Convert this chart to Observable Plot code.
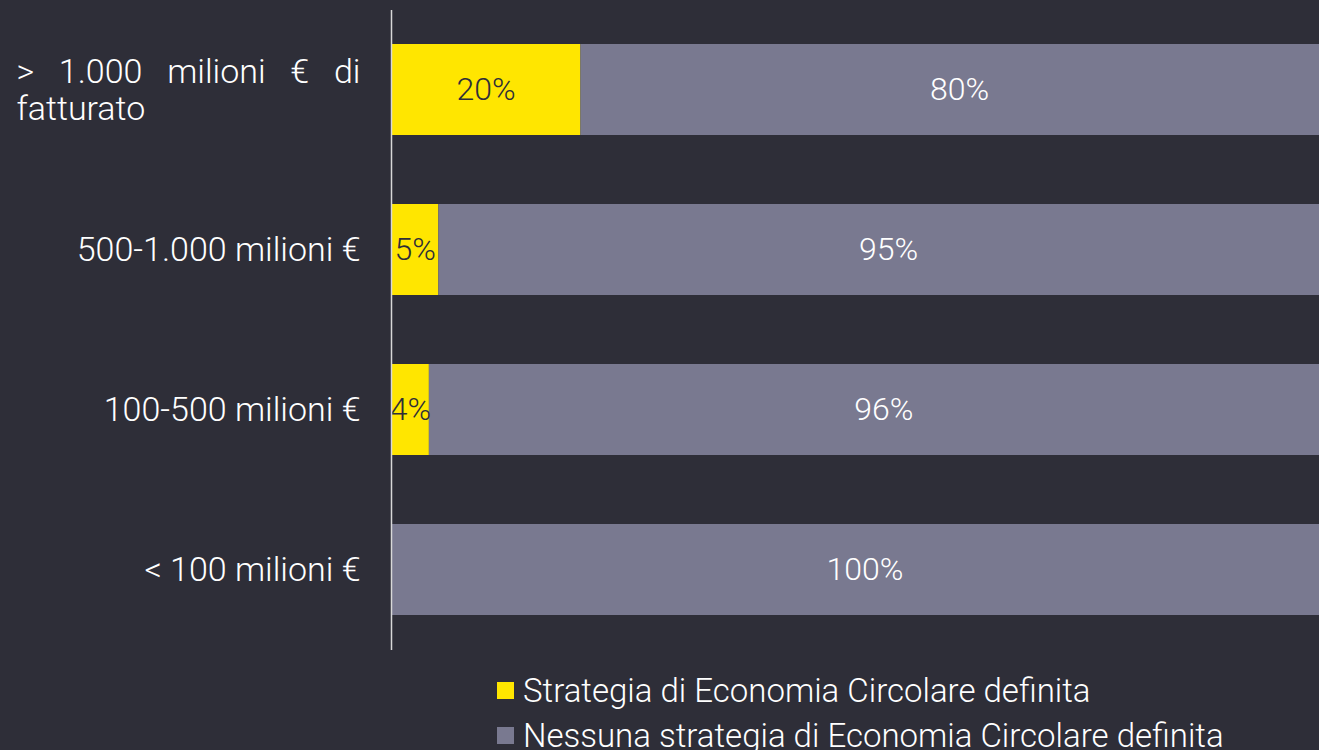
<!DOCTYPE html>
<html>
<head>
<meta charset="utf-8">
<script src="https://cdn.jsdelivr.net/npm/d3@7"></script>
<script src="https://cdn.jsdelivr.net/npm/@observablehq/plot@0.6"></script>
<style>
  html, body { margin: 0; padding: 0; background: #2e2e38; overflow: hidden; }
  body { width: 1319px; height: 750px; font-family: Roboto, "Noto Sans", sans-serif; }
  #chart svg { display: block; }
  .legend { margin-left: 497px; margin-top: 18px; color: #ffffff; font-size: 33px; font-weight: 300; line-height: 45px; }
  .legend div { display: flex; align-items: center; white-space: nowrap; height: 45px; }
  .legend .sw { width: 17px; height: 17px; margin-right: 9px; display: inline-block; flex: none; }
</style>
</head>
<body>
<div id="chart"></div>
<div class="legend" id="legend"></div>
<script>
const categories = ["> 1.000 milioni € di fatturato", "500-1.000 milioni €", "100-500 milioni €", "< 100 milioni €"];
const categoryLabels = ["> 1.000 milioni € di\nfatturato", "500-1.000 milioni €", "100-500 milioni €", "< 100 milioni €"];
const seriesNames = ["Strategia di Economia Circolare definita", "Nessuna strategia di Economia Circolare definita"];
const strategia = [20, 5, 4, 0];
const nessuna = [80, 95, 96, 100];
const seriesColors = ["#ffe600", "#797990"];
const labelColors = ["#2e2e38", "#ffffff"];

const rows = [];
categories.forEach((c, i) => {
  rows.push({cat: c, series: seriesNames[0], value: strategia[i]});
  rows.push({cat: c, series: seriesNames[1], value: nessuna[i]});
});

const labelRows = categories.map((c, i) => ({cat: c, label: categoryLabels[i], first: i === 0}));

const plot = Plot.plot({
  width: 1319,
  height: 650,
  marginTop: 10,
  marginBottom: 0,
  marginLeft: 391,
  marginRight: 0,
  style: {background: "#2e2e38", fontFamily: "Roboto, 'Noto Sans', sans-serif", fontWeight: 300, overflow: "hidden"},
  x: {domain: [0, 100], range: [391, 1338], axis: null},
  y: {domain: categories, paddingInner: 0.43, paddingOuter: 0.215, axis: null},
  color: {domain: seriesNames, range: seriesColors},
  marks: [
    Plot.barX(rows, Plot.stackX({x: "value", y: "cat", fill: "series", order: seriesNames})),
    Plot.text(rows.filter(d => d.value > 0), Plot.stackX({
      x: "value", y: "cat", order: seriesNames,
      text: d => d.value + "%",
      fill: d => labelColors[seriesNames.indexOf(d.series)],
      fontSize: 32, fontWeight: 300
    })),
    Plot.text(labelRows.filter(d => !d.first), {
      y: "cat", text: "label", frameAnchor: "left", textAnchor: "end", dx: -31,
      fill: "#ffffff", fontSize: 34, fontWeight: 300
    }),
    Plot.text(labelRows.filter(d => d.first), {
      y: "cat", text: "label", frameAnchor: "left", textAnchor: "start", dx: -375,
      fill: "#ffffff", fontSize: 34, fontWeight: 300, lineHeight: 1.09, className: "first-label"
    }),
    Plot.ruleX([0], {stroke: "#d8d8d8", strokeWidth: 1.5})
  ]
});
document.getElementById("chart").appendChild(plot);

// justify first line of the wrapped category label (as in the reference)
const t = plot.querySelector(".first-label text");
if (t) {
  const tspans = t.querySelectorAll("tspan");
  const firstLine = tspans.length ? tspans[0] : t;
  const w = firstLine.getComputedTextLength();
  const target = 360 - 16;
  const spaces = (categoryLabels[0].split("\n")[0].match(/ /g) || []).length;
  if (spaces > 0 && w < target) firstLine.setAttribute("word-spacing", ((target - w) / spaces) + "px");
}

const legend = document.getElementById("legend");
seriesNames.forEach((s, i) => {
  const row = document.createElement("div");
  const sw = document.createElement("span");
  sw.className = "sw";
  sw.style.background = seriesColors[i];
  const tx = document.createElement("span");
  tx.textContent = s;
  row.appendChild(sw);
  row.appendChild(tx);
  legend.appendChild(row);
});
</script>
</body>
</html>
